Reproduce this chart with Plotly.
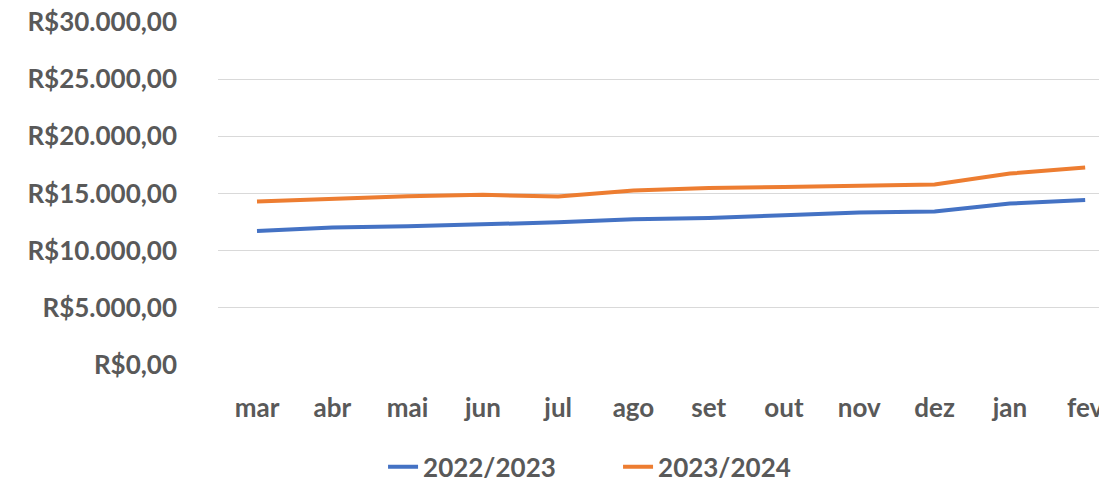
import plotly.graph_objects as go

months = ["mar", "abr", "mai", "jun", "jul", "ago", "set", "out", "nov", "dez", "jan", "fev"]
s2022 = [11720, 12020, 12130, 12280, 12480, 12750, 12860, 13100, 13330, 13420, 14120, 14440]
s2023 = [14300, 14520, 14760, 14880, 14730, 15260, 15490, 15570, 15690, 15780, 16740, 17270]
y_ticks = [0, 5000, 10000, 15000, 20000, 25000, 30000]


def brl(v):
    s = f"{v:,.2f}"
    s = s.replace(",", "X").replace(".", ",").replace("X", ".")
    return "R$" + s


y_ticktext = [brl(v) for v in y_ticks]

font_family = "Lato, 'Open Sans', sans-serif"
text_color = "#595959"
fs = 26

fig = go.Figure()
fig.add_trace(go.Scatter(x=list(range(len(months))), y=s2022, name="2022/2023", mode="lines",
                         line=dict(color="#4472C4", width=4)))
fig.add_trace(go.Scatter(x=list(range(len(months))), y=s2023, name="2023/2024", mode="lines",
                         line=dict(color="#ED7D31", width=4)))

fig.update_layout(
    width=1099, height=474,
    margin=dict(l=210, r=0, t=14, b=117, autoexpand=False),
    paper_bgcolor="white", plot_bgcolor="white",
    font=dict(family=font_family, size=fs, color=text_color, weight="bold"),
    showlegend=True,
    legend=dict(orientation="h", x=0.45, xanchor="center", y=-0.297, yanchor="middle",
                entrywidth=190,
                font=dict(size=fs, color=text_color, family=font_family, weight="bold")),
    xaxis=dict(tickmode="array", tickvals=list(range(len(months))), ticktext=months,
               range=[-0.518, 11.29], showgrid=False, zeroline=False, showline=False,
               ticks="", ticklabelstandoff=25, automargin=False, ticklabeloverflow="allow",
               tickfont=dict(size=fs, color=text_color, family=font_family, weight="bold")),
    yaxis=dict(range=[0, 30000], tickmode="array", tickvals=y_ticks, ticktext=y_ticktext,
               showgrid=True, gridcolor="#D9D9D9",
               gridwidth=1, zeroline=False, showline=False, ticks="", ticklabelstandoff=40,
               automargin=False, ticklabeloverflow="allow",
               tickfont=dict(size=fs, color=text_color, family=font_family, weight="bold")),
)

fig.write_html("out.html")
